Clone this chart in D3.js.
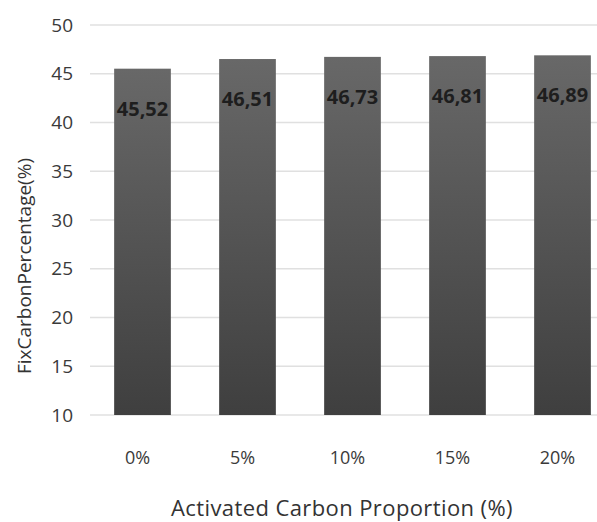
<!DOCTYPE html>
<html>
<head>
<meta charset="utf-8">
<script src="https://cdn.jsdelivr.net/npm/d3@7"></script>
<style>
  body { margin: 0; background: #fff; }
  svg { display: block; }
</style>
</head>
<body>
<div id="chart"></div>
<script>
// data
var categories = ["0%", "5%", "10%", "15%", "20%"];
var fixCarbon = [45.52, 46.51, 46.73, 46.81, 46.89];
var yTicks = [10, 15, 20, 25, 30, 35, 40, 45, 50];

var svgWidth = 597;
var svgHeight = 522;

var svg = d3.select("#chart")
  .append("svg")
  .attr("width", svgWidth)
  .attr("height", svgHeight);

var defs = svg.append("defs");
var grad = defs.append("linearGradient")
  .attr("id", "barGrad")
  .attr("x1", 0).attr("y1", 0).attr("x2", 0).attr("y2", 1);
grad.append("stop").attr("offset", "0%").attr("stop-color", "#686868");
grad.append("stop").attr("offset", "100%").attr("stop-color", "#3f3f3f");

var xScale = d3.scaleBand()
  .domain(categories)
  .range([90, 615])
  .paddingInner(0.46)
  .paddingOuter(0.23);

var yScale = d3.scaleLinear()
  .domain([10, 50])
  .range([415, 25]);

var fontFamily = "'Open Sans', 'Noto Sans', sans-serif";

// gridlines
svg.append("g")
  .selectAll("line")
  .data(yTicks)
  .enter()
  .append("line")
  .attr("x1", 90)
  .attr("x2", svgWidth)
  .attr("y1", d => yScale(d))
  .attr("y2", d => yScale(d))
  .attr("stroke", "#e0e0e0")
  .attr("stroke-width", 1.5);

// left axis (labels only)
var leftAxis = d3.axisLeft(yScale).tickValues(yTicks).tickSize(0).tickPadding(0);
var yAxisG = svg.append("g")
  .attr("transform", "translate(73,0)")
  .call(leftAxis);
yAxisG.select(".domain").remove();
yAxisG.selectAll("text")
  .attr("font-family", fontFamily)
  .attr("font-size", "19px")
  .attr("fill", "#3a3a3a");

// bars
svg.append("g")
  .selectAll("rect")
  .data(fixCarbon)
  .enter()
  .append("rect")
  .attr("x", (d, i) => xScale(categories[i]))
  .attr("y", d => yScale(d))
  .attr("width", xScale.bandwidth())
  .attr("height", d => yScale(10) - yScale(d))
  .attr("fill", "url(#barGrad)");

// value labels, comma decimal
var fmt = d3.formatLocale({ decimal: ",", thousands: ".", grouping: [3], currency: ["", ""] }).format(".2f");
svg.append("g")
  .selectAll("text")
  .data(fixCarbon)
  .enter()
  .append("text")
  .attr("x", (d, i) => xScale(categories[i]) + xScale.bandwidth() / 2)
  .attr("y", d => yScale(d) + 40)
  .attr("dy", "0.35em")
  .attr("text-anchor", "middle")
  .attr("font-family", fontFamily)
  .attr("font-size", "20px")
  .attr("font-weight", "700")
  .attr("fill", "#1e1e1e")
  .text(d => fmt(d));

// bottom axis (labels only)
var bottomAxis = d3.axisBottom(xScale).tickSize(0).tickPadding(0);
var xAxisG = svg.append("g")
  .attr("transform", "translate(-5,451)")
  .call(bottomAxis);
xAxisG.select(".domain").remove();
xAxisG.selectAll("text")
  .attr("font-family", fontFamily)
  .attr("font-size", "18px")
  .attr("fill", "#3a3a3a");

// axis titles
svg.append("text")
  .attr("x", 342)
  .attr("y", 508)
  .attr("dy", "0.35em")
  .attr("text-anchor", "middle")
  .attr("font-family", fontFamily)
  .attr("font-size", "22px")
  .attr("letter-spacing", "0.4px")
  .attr("fill", "#333")
  .text("Activated Carbon Proportion (%)");

svg.append("text")
  .attr("transform", "translate(24,266) rotate(-90)")
  .attr("dy", "0.35em")
  .attr("text-anchor", "middle")
  .attr("font-family", fontFamily)
  .attr("font-size", "19px")
  .attr("fill", "#333")
  .text("FixCarbonPercentage(%)");
</script>
</body>
</html>
